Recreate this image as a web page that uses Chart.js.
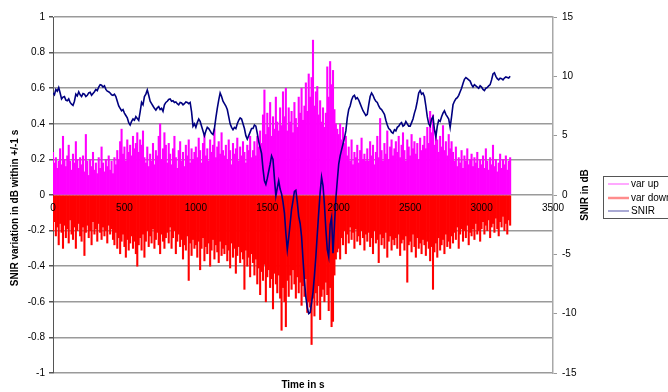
<!DOCTYPE html>
<html>
<head>
<meta charset="utf-8">
<script src="https://cdn.jsdelivr.net/npm/chart.js@4.4.1/dist/chart.umd.min.js"></script>
<style>
  html, body { margin: 0; padding: 0; background: #ffffff; }
  #wrap { width: 668px; height: 392px; position: relative; }
</style>
</head>
<body>
<div id="wrap"><canvas id="c" width="668" height="392"></canvas></div>
<script>
// Sampling of the variation series (seconds between samples)
const varStep = 10;
// Largest rise of SNIR within +/-1 s (dB), one value every 10 s from t = 0
const varUp = [
  0.24,0.18,0.21,0.15,0.19,0.26,0.17,0.33,0.2,0.16,0.22,0.28,0.19,0.14,0.23,0.18,0.3,0.2,0.15,0.21,
  0.17,0.22,0.13,0.34,0.19,0.11,0.2,0.16,0.24,0.14,0.18,0.12,0.21,0.15,0.27,0.18,0.13,0.2,0.16,0.22,
  0.14,0.19,0.12,0.21,0.17,0.25,0.2,0.3,0.37,0.23,0.27,0.19,0.31,0.24,0.28,0.22,0.33,0.26,0.29,0.35,
  0.24,0.31,0.28,0.36,0.21,0.18,0.27,0.16,0.23,0.19,0.29,0.17,0.25,0.22,0.33,0.4,0.2,0.26,0.35,0.28,
  0.18,0.29,0.23,0.17,0.26,0.33,0.21,0.15,0.25,0.3,0.19,0.24,0.16,0.28,0.22,0.31,0.18,0.26,0.2,0.24,
  0.27,0.21,0.32,0.25,0.18,0.29,0.34,0.22,0.26,0.19,0.31,0.24,0.28,0.37,0.21,0.27,0.3,0.23,0.35,0.25,
  0.22,0.28,0.2,0.31,0.25,0.17,0.29,0.23,0.26,0.32,0.19,0.27,0.22,0.3,0.24,0.18,0.28,0.25,0.33,0.21,
  0.25,0.3,0.22,0.33,0.27,0.36,0.29,0.45,0.59,0.34,0.46,0.38,0.52,0.33,0.44,0.37,0.55,0.41,0.36,0.49,
  0.39,0.58,0.44,0.6,0.36,0.49,0.41,0.47,0.35,0.52,0.43,0.38,0.55,0.46,0.6,0.42,0.5,0.63,0.47,0.68,
  0.55,0.66,0.87,0.5,0.58,0.61,0.45,0.53,0.41,0.49,0.38,0.46,0.72,0.55,0.75,0.62,0.7,0.48,0.4,0.37,
  0.34,0.4,0.31,0.38,0.29,0.33,0.22,0.27,0.19,0.31,0.17,0.24,0.21,0.28,0.18,0.25,0.32,0.2,0.23,0.19,
  0.26,0.19,0.3,0.22,0.28,0.17,0.24,0.33,0.21,0.43,0.25,0.19,0.29,0.23,0.36,0.2,0.27,0.31,0.22,0.26,
  0.3,0.24,0.33,0.21,0.28,0.35,0.25,0.19,0.31,0.27,0.22,0.34,0.26,0.3,0.23,0.29,0.2,0.32,0.25,0.28,
  0.33,0.26,0.38,0.29,0.47,0.35,0.45,0.28,0.36,0.31,0.24,0.33,0.27,0.39,0.25,0.3,0.22,0.34,0.26,0.3,
  0.24,0.19,0.27,0.16,0.21,0.18,0.25,0.15,0.22,0.19,0.26,0.17,0.2,0.23,0.16,0.21,0.18,0.24,0.15,0.2,
  0.17,0.22,0.15,0.26,0.19,0.14,0.21,0.17,0.28,0.16,0.2,0.13,0.18,0.23,0.15,0.2,0.17,0.22,0.14,0.19,
  0.21
];
// Largest drop of SNIR within +/-1 s (dB), same sampling
const varDown = [
  -0.2,-0.15,-0.23,-0.18,-0.28,-0.16,-0.21,-0.3,-0.17,-0.24,-0.19,-0.27,-0.14,-0.22,-0.25,-0.18,-0.3,-0.2,-0.16,-0.23,
  -0.26,-0.18,-0.34,-0.21,-0.17,-0.24,-0.2,-0.28,-0.15,-0.22,-0.19,-0.26,-0.16,-0.21,-0.25,-0.18,-0.23,-0.2,-0.27,-0.17,
  -0.22,-0.19,-0.25,-0.28,-0.21,-0.3,-0.24,-0.33,-0.26,-0.22,-0.29,-0.35,-0.25,-0.31,-0.27,-0.23,-0.3,-0.26,-0.33,-0.4,
  -0.28,-0.24,-0.31,-0.22,-0.35,-0.26,-0.2,-0.29,-0.23,-0.27,-0.19,-0.3,-0.25,-0.21,-0.28,-0.33,-0.22,-0.26,-0.3,-0.24,
  -0.21,-0.27,-0.18,-0.3,-0.24,-0.2,-0.33,-0.26,-0.22,-0.29,-0.25,-0.36,-0.28,-0.31,-0.23,-0.48,-0.27,-0.34,-0.25,-0.3,
  -0.28,-0.35,-0.26,-0.42,-0.3,-0.24,-0.37,-0.29,-0.33,-0.27,-0.4,-0.31,-0.25,-0.36,-0.28,-0.32,-0.38,-0.26,-0.34,-0.3,
  -0.33,-0.28,-0.37,-0.31,-0.41,-0.27,-0.35,-0.3,-0.44,-0.34,-0.29,-0.38,-0.32,-0.36,-0.53,-0.31,-0.4,-0.35,-0.46,-0.33,
  -0.38,-0.45,-0.36,-0.5,-0.41,-0.56,-0.43,-0.48,-0.39,-0.6,-0.46,-0.42,-0.52,-0.47,-0.64,-0.44,-0.5,-0.55,-0.45,-0.58,
  -0.76,-0.52,-0.6,-0.74,-0.48,-0.57,-0.45,-0.53,-0.42,-0.5,-0.58,-0.46,-0.55,-0.49,-0.62,-0.51,-0.57,-0.47,-0.66,-0.6,
  -0.63,-0.84,-0.58,-0.68,-0.55,-0.62,-0.51,-0.7,-0.57,-0.53,-0.6,-0.49,-0.56,-0.65,-0.52,-0.74,-0.71,-0.45,-0.36,-0.32,
  -0.3,-0.36,-0.24,-0.28,-0.2,-0.33,-0.22,-0.27,-0.18,-0.25,-0.21,-0.3,-0.19,-0.26,-0.23,-0.28,-0.2,-0.24,-0.31,-0.22,
  -0.26,-0.21,-0.29,-0.24,-0.33,-0.2,-0.27,-0.25,-0.38,-0.22,-0.28,-0.24,-0.3,-0.21,-0.35,-0.26,-0.23,-0.31,-0.25,-0.28,
  -0.24,-0.3,-0.22,-0.34,-0.27,-0.25,-0.31,-0.23,-0.49,-0.28,-0.26,-0.32,-0.22,-0.29,-0.35,-0.24,-0.3,-0.27,-0.33,-0.25,
  -0.28,-0.34,-0.26,-0.3,-0.37,-0.29,-0.53,-0.32,-0.27,-0.35,-0.24,-0.31,-0.28,-0.25,-0.33,-0.22,-0.29,-0.26,-0.3,-0.23,
  -0.27,-0.21,-0.25,-0.18,-0.3,-0.22,-0.19,-0.26,-0.2,-0.24,-0.17,-0.28,-0.21,-0.23,-0.19,-0.25,-0.16,-0.22,-0.2,-0.26,
  -0.19,-0.15,-0.22,-0.17,-0.2,-0.14,-0.24,-0.18,-0.16,-0.21,-0.13,-0.19,-0.23,-0.15,-0.18,-0.12,-0.2,-0.16,-0.22,-0.14,
  -0.17
];
// SNIR trace (dB), one value every 10 s from t = 0
const snirStep = 10;
const snir = [
  8.6,8.45,8.9,8.75,9.05,8.6,8.1,8.25,8.3,8.0,7.95,8.1,7.8,7.65,7.55,7.9,8.5,8.35,8.7,8.45,
  8.3,8.55,8.5,8.3,8.4,8.6,8.65,8.4,8.55,8.7,8.9,8.8,9.1,9.3,9.25,9.1,9.2,8.9,8.75,8.7,
  8.6,8.45,8.4,8.5,8.3,7.9,7.5,7.3,7.1,7.2,6.9,6.7,6.5,6.1,5.9,6.2,6.4,6.3,6.6,6.45,
  6.3,7.0,7.8,7.6,8.3,8.5,8.85,8.4,7.9,7.7,7.5,7.3,7.15,7.35,7.45,7.2,7.3,7.05,7.6,7.8,
  7.9,8.05,8.1,7.9,7.95,7.8,7.85,7.7,7.6,7.8,7.75,7.6,7.7,7.85,7.8,7.7,7.8,7.0,5.8,6.0,
  5.7,6.1,6.4,6.2,5.8,5.4,5.0,5.4,5.7,5.6,5.4,5.2,5.1,5.6,6.5,7.3,8.0,8.6,8.3,7.9,
  7.7,7.5,7.2,6.6,6.0,5.7,5.5,5.7,5.6,6.0,6.3,6.5,6.4,6.0,5.6,5.0,4.7,5.0,5.3,5.6,
  5.6,5.9,5.8,5.2,4.5,4.0,3.5,2.2,1.2,0.9,1.4,2.0,2.6,3.3,3.0,1.4,-0.1,0.6,1.2,0.5,
  0.1,-0.6,-1.5,-3.2,-4.6,-3.6,-2.4,-1.2,-0.5,0.3,0.4,-0.6,-1.8,-2.4,-3.5,-5.4,-7.2,-8.6,-9.5,-10.0,
  -9.9,-9.1,-8.2,-6.8,-5.2,-3.3,-1.5,0.2,1.5,0.8,-0.8,-2.9,-4.6,-5.2,-2.5,-1.9,-4.9,-2.6,-0.3,1.2,
  2.6,3.3,3.8,4.3,4.8,5.4,6.5,7.2,7.5,8.0,8.3,8.4,8.1,8.2,8.0,7.7,7.4,7.1,6.9,6.7,
  6.8,7.6,8.3,8.6,8.4,8.1,7.9,7.8,7.5,7.3,7.2,7.0,6.8,6.3,5.9,5.6,5.5,5.3,5.2,5.5,
  5.4,5.7,5.8,6.0,6.1,5.8,5.9,6.2,6.0,5.8,5.8,6.1,6.4,6.9,7.3,7.9,8.6,8.8,8.5,8.6,
  8.3,7.5,6.6,6.0,5.8,6.4,6.6,5.5,4.9,5.8,6.3,6.2,6.6,6.9,7.1,6.8,6.6,6.4,5.7,6.6,
  7.6,7.9,8.1,8.2,8.4,8.7,9.0,9.4,9.75,9.9,9.8,9.7,9.6,9.3,9.1,9.3,9.2,9.1,9.0,9.2,
  9.1,8.9,8.8,9.0,9.05,9.2,9.3,9.7,10.2,10.3,10.0,9.8,9.7,9.85,9.8,9.7,9.85,9.95,9.9,9.85,
  10.0
];
// Axis tick settings
const timeTicks = [0, 500, 1000, 1500, 2000, 2500, 3000, 3500];
const variationRange = [-1, 1, 0.2];
const snirRange = [-15, 15, 5];
const seriesNames = ['var up', 'var down', 'SNIR'];
const seriesColors = ['#ff00ff', '#ff0000', '#000080'];

const FONT = "'Liberation Sans', Arial, sans-serif";
Chart.defaults.font.family = FONT;
Chart.defaults.font.size = 10;
Chart.defaults.color = '#000000';

const upPoints = varUp.map((v, i) => ({ x: i * varStep, y: v }));
const downPoints = varDown.map((v, i) => ({ x: i * varStep, y: v }));
const snirPoints = snir.map((v, i) => ({ x: i * snirStep, y: v }));

const fmt = v => String(Math.round(v * 10) / 10);

// Axis titles and the boxed legend on the right
const decorations = {
  id: 'decorations',
  afterDraw(chart) {
    const ctx = chart.ctx;
    ctx.save();
    ctx.fillStyle = '#000';
    ctx.font = 'bold 10px ' + FONT;
    ctx.textAlign = 'center';
    ctx.textBaseline = 'middle';
    ctx.fillText('Time in s', 303, 385);
    ctx.save();
    ctx.translate(15, 208);
    ctx.rotate(-Math.PI / 2);
    ctx.fillText('SNIR variation in dB within +/-1 s', 0, 0);
    ctx.restore();
    ctx.save();
    ctx.translate(585, 195);
    ctx.rotate(-Math.PI / 2);
    ctx.fillText('SNIR in dB', 0, 0);
    ctx.restore();

    // legend
    ctx.strokeStyle = '#555';
    ctx.lineWidth = 1;
    ctx.strokeRect(603.5, 176.5, 80, 42);
    const rows = [184, 198, 211];
    const widths = [1.5, 2.5, 1.5];
    ctx.font = '10px ' + FONT;
    ctx.textAlign = 'left';
    chart.data.datasets.forEach((ds, i) => {
      ctx.save();
      ctx.globalAlpha = 0.45;
      ctx.strokeStyle = seriesColors[i];
      ctx.lineWidth = widths[i];
      ctx.beginPath();
      ctx.moveTo(608, rows[i]);
      ctx.lineTo(629, rows[i]);
      ctx.stroke();
      ctx.restore();
      ctx.fillStyle = '#000';
      ctx.fillText(ds.label, 631, rows[i]);
    });
    ctx.restore();
  }
};

new Chart(document.getElementById('c'), {
  type: 'bar',
  data: {
    datasets: [
      {
        label: seriesNames[0], data: upPoints, yAxisID: 'y',
        backgroundColor: seriesColors[0], borderWidth: 0,
        grouped: false, barPercentage: 1, categoryPercentage: 1, order: 2
      },
      {
        label: seriesNames[1], data: downPoints, yAxisID: 'y',
        backgroundColor: seriesColors[1], borderWidth: 0,
        grouped: false, barPercentage: 1, categoryPercentage: 1, order: 1
      },
      {
        type: 'line', label: seriesNames[2], data: snirPoints, yAxisID: 'y2',
        borderColor: seriesColors[2], borderWidth: 1.6, pointRadius: 0,
        tension: 0, fill: false, order: 0
      }
    ]
  },
  options: {
    responsive: false,
    animation: false,
    devicePixelRatio: 1,
    layout: { padding: { top: 17, bottom: 19, left: 0, right: 0 } },
    plugins: { legend: { display: false }, tooltip: { enabled: false } },
    scales: {
      x: {
        type: 'linear',
        position: { y: 0 },
        min: timeTicks[0], max: timeTicks[timeTicks.length - 1],
        offset: false,
        afterBuildTicks: s => { s.ticks = timeTicks.map(v => ({ value: v })); },
        ticks: { z: 1, padding: 7, maxRotation: 0, autoSkip: false, callback: v => String(v) },
        grid: { display: false, drawTicks: false },
        border: { display: false },
        afterFit: s => { s.height = 0; }
      },
      y: {
        type: 'linear', position: 'left',
        min: variationRange[0], max: variationRange[1],
        ticks: { stepSize: variationRange[2], padding: 4, callback: fmt },
        grid: { color: '#9a9a9a', lineWidth: 1.5, tickColor: '#555', tickLength: 4 },
        border: { color: '#555', width: 1 },
        afterFit: s => { s.width = 53; }
      },
      y2: {
        type: 'linear', position: 'right',
        min: snirRange[0], max: snirRange[1],
        ticks: { stepSize: snirRange[2], padding: 5, callback: fmt },
        grid: { drawOnChartArea: false, tickColor: '#999', tickLength: 4 },
        border: { color: '#a8a8a8', width: 1.5 },
        afterFit: s => { s.width = 115; }
      }
    }
  },
  plugins: [decorations]
});
</script>
</body>
</html>
